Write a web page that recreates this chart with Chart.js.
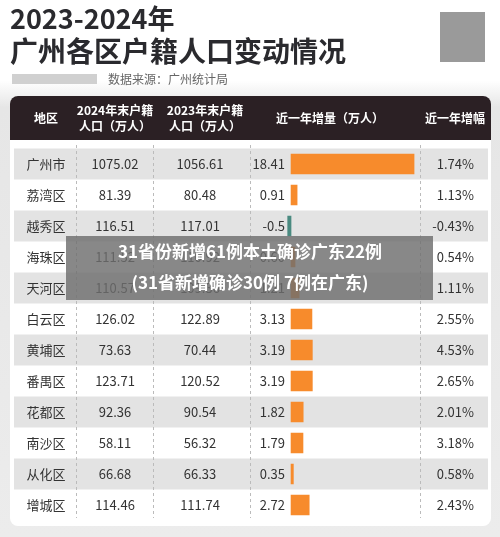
<!DOCTYPE html>
<html><head><meta charset="utf-8">
<script src="https://cdn.jsdelivr.net/npm/chart.js@4/dist/chart.umd.min.js"></script>
<style>html,body{margin:0;padding:0;background:#fff}#c{display:block}</style>
</head><body>
<div style="width:500px;height:537px"><canvas id="c"></canvas></div>
<script>
const districts=['广州市','荔湾区','越秀区','海珠区','天河区','白云区','黄埔区','番禺区','花都区','南沙区','从化区','增城区'];
const pop2024=['1075.02','81.39','116.51','111.52','110.57','126.02','73.63','123.71','92.36','58.11','66.68','114.46'];
const pop2023=['1056.61','80.48','117.01','110.92','109.36','122.89','70.44','120.52','90.54','56.32','66.33','111.74'];
const increase=[18.41,0.91,-0.5,0.60,1.21,3.13,3.19,3.19,1.82,1.79,0.35,2.72];
const incLabels=['18.41','0.91','-0.5','0.60','1.21','3.13','3.19','3.19','1.82','1.79','0.35','2.72'];
const growth=['1.74%','1.13%','-0.43%','0.54%','1.11%','2.55%','4.53%','2.65%','2.01%','3.18%','0.58%','2.43%'];
const F='"Noto Sans CJK SC","Noto Sans",sans-serif';
const deco={id:'deco',
beforeDraw(ch){const c=ch.ctx,a=ch.chartArea;c.save();
 const g=c.createLinearGradient(0,0,0,537);g.addColorStop(0,'#fff');g.addColorStop(0.15,'#fff');g.addColorStop(0.2,'#e6e6e6');g.addColorStop(1,'#ececec');
 c.fillStyle=g;c.fillRect(0,0,500,537);
 c.fillStyle='#2a2a2e';c.font='bold 27px '+F;c.textBaseline='middle';
 c.fillText('2023-2024年',10,19);c.font='bold 28px '+F;c.fillText('广州各区户籍人口变动情况',10,51);
 c.fillStyle='#d0d0d0';c.fillRect(12,74,85,10);
 c.fillStyle='#666';c.font='12px '+F;c.fillText('数据来源：广州统计局',108,79);
 c.fillStyle='#9a9a9a';c.fillRect(440,12,45,50);
 c.fillStyle='#fff';c.beginPath();c.roundRect(10,96,481,430,8);c.fill();
 c.fillStyle='#2b2024';c.beginPath();c.roundRect(10,96,481,44,[8,8,0,0]);c.fill();
 const y=ch.scales.y;const h=(a.bottom-a.top)/districts.length;
 districts.forEach((d,i)=>{if(i%2===0){c.fillStyle='#e3e3e3';c.fillRect(14,y.getPixelForValue(i)-h/2,474,h);}});
 c.strokeStyle='#bbb';c.setLineDash([3,3]);c.lineWidth=1;
 [76,153,250,420].forEach(x=>{c.beginPath();c.moveTo(x+.5,145);c.lineTo(x+.5,518);c.stroke();});
 c.setLineDash([]);
 c.fillStyle='#fff';c.font='bold 12px '+F;c.textAlign='center';
 c.fillText('地区',46,118);c.fillText('2024年末户籍',115,110);c.fillText('人口（万人）',115,126);
 c.fillText('2023年末户籍',205,110);c.fillText('人口（万人）',205,126);
 c.fillText('近一年增量（万人）',330,118);c.fillText('近一年增幅',455,118);
 c.fillStyle='#333';c.font='13px '+F;
 districts.forEach((d,i)=>{const py=y.getPixelForValue(i);c.textAlign='center';
  c.fillText(d,46,py);c.fillText(pop2024[i],115,py);c.fillText(pop2023[i],200,py);
  c.textAlign='right';c.fillText(incLabels[i],285,py);c.fillText(growth[i],474,py);});
 c.restore();},
afterDraw(ch){const c=ch.ctx;c.save();
 c.fillStyle='rgba(110,110,110,0.82)';c.fillRect(66,236,367,64);
 c.fillStyle='#fff';c.font='bold 17px '+F;c.textAlign='center';c.textBaseline='middle';
 c.fillText('31省份新增61例本土确诊广东22例',250,252);c.fillText('(31省新增确诊30例 7例在广东)',250,283);
 c.restore();}};
new Chart(document.getElementById('c'),{type:'bar',
data:{labels:districts,datasets:[{data:increase,backgroundColor:increase.map(v=>v<0?'#4a8a80':'#f78b2c'),barThickness:20,borderWidth:0}]},
options:{indexAxis:'y',responsive:true,maintainAspectRatio:false,animation:false,
 layout:{padding:{left:250,right:80,top:148.5,bottom:16.5}},
 plugins:{legend:{display:false},tooltip:{enabled:false}},
 scales:{x:{display:false,min:-6.14,max:19.3},y:{display:false}}},
plugins:[deco]});
</script></body></html>
